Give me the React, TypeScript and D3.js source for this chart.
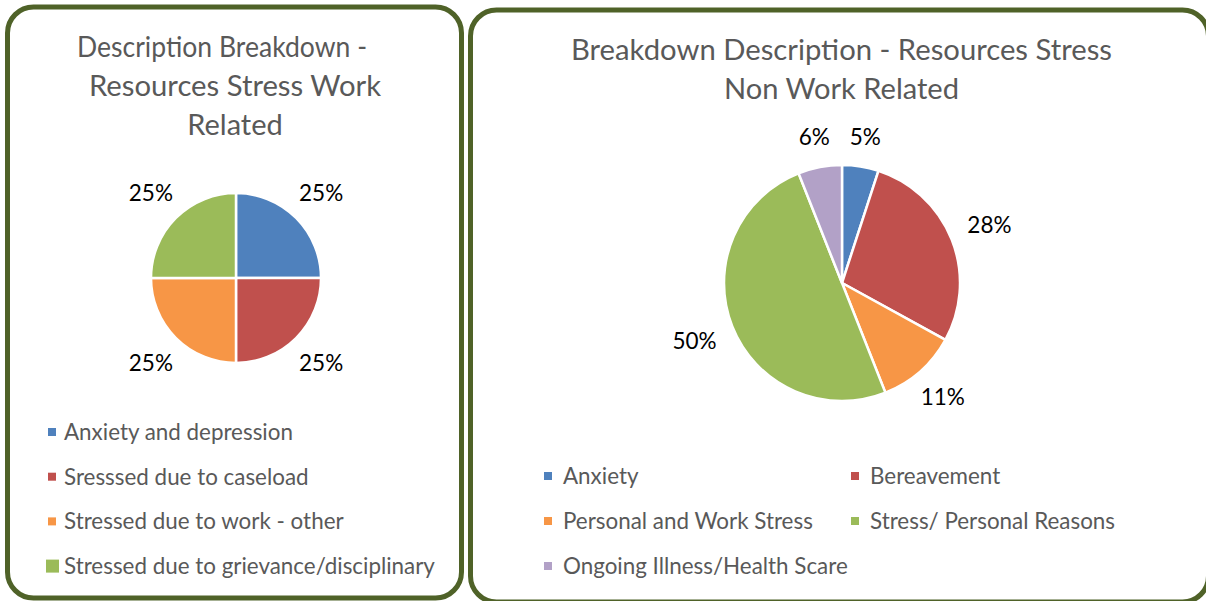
import React from 'react';
import * as d3 from 'd3';

// left chart
const workCategories = [
  'Anxiety and depression',
  'Sresssed due to caseload',
  'Stressed due to work - other',
  'Stressed due to grievance/disciplinary',
];
const workValues = [25, 25, 25, 25];
const workColors = ['#4F81BD', '#C0504D', '#F79646', '#9BBB59'];
const workTitle = ['Description Breakdown -', 'Resources Stress Work', 'Related'];

// right chart
const nonWorkCategories = [
  'Anxiety',
  'Bereavement',
  'Personal and Work Stress',
  'Stress/ Personal Reasons',
  'Ongoing Illness/Health Scare',
];
const nonWorkValues = [5, 28, 11, 50, 6];
const nonWorkColors = ['#4F81BD', '#C0504D', '#F79646', '#9BBB59', '#B2A1C7'];
const nonWorkTitle = ['Breakdown Description - Resources Stress', 'Non Work Related'];

const FONT = 'Lato, "Open Sans", sans-serif';
const TEXT_GREY = '#595959';
const BORDER = '#4F6228';

type PieProps = {
  cx: number;
  cy: number;
  r: number;
  values: number[];
  colors: string[];
};

const Pie = ({ cx, cy, r, values, colors }: PieProps) => {
  const pie = d3.pie<number>().sort(null).value((d) => d);
  const arcs = pie(values);
  const arc = d3.arc<d3.PieArcDatum<number>>().innerRadius(0).outerRadius(r);
  const total = d3.sum(values);

  return (
    <g transform={`translate(${cx},${cy})`}>
      {arcs.map((a, i) => (
        <path key={i} d={arc(a) || ''} fill={colors[i]} stroke="#fff" strokeWidth={2.5} />
      ))}
      {arcs.map((a, i) => {
        const label = `${Math.round((a.data / total) * 100)}%`;
        const mid = (a.startAngle + a.endAngle) / 2;
        // push the label box out until its edge clears the slice
        const hw = label.length * 7.3;
        const hh = 13;
        const s = Math.abs(Math.sin(mid)) || 1e-6;
        const c = Math.abs(Math.cos(mid)) || 1e-6;
        const dist = r + 17 + Math.min(hw / s, hh / c);
        const x = Math.sin(mid) * dist;
        const y = -Math.cos(mid) * dist;
        return (
          <text key={'l' + i} x={x} y={y} dy="0.35em" textAnchor="middle"
            fontFamily={FONT} fontSize={22.5} fill="#000">
            {label}
          </text>
        );
      })}
    </g>
  );
};

export default function App() {
  return (
    <svg width={1206} height={601} style={{ position: 'absolute', left: 0, top: 0, background: '#fff' }}>
      {/* panel frames */}
      <rect x={7.5} y={7} width={454} height={591} rx={26} fill="#fff" stroke={BORDER} strokeWidth={5} />
      <rect x={470.5} y={10} width={738} height={592} rx={26} fill="#fff" stroke={BORDER} strokeWidth={5} />

      {/* left title */}
      <g fontFamily={FONT} fontSize={29} fill={TEXT_GREY} textAnchor="middle">
        <text x={222} y={57} textLength={290} lengthAdjust="spacingAndGlyphs">{workTitle[0]}</text>
        <text x={235} y={96} textLength={292} lengthAdjust="spacingAndGlyphs">{workTitle[1]}</text>
        <text x={235} y={135}>{workTitle[2]}</text>
      </g>
      <Pie cx={236} cy={278} r={85} values={workValues} colors={workColors} />
      <g fontFamily={FONT} fontSize={22.4} fill={TEXT_GREY}>
        {workCategories.map((c, i) => {
          const y = 432 + i * 44.7;
          const s = i === 3 ? 13 : 8;
          return (
            <g key={c}>
              <rect x={i === 3 ? 46 : 48} y={y - s / 2} width={s} height={s} fill={workColors[i]} />
              <text x={64} y={y} dy="0.35em">{c}</text>
            </g>
          );
        })}
      </g>

      {/* right title */}
      <g fontFamily={FONT} fontSize={29} fill={TEXT_GREY} textAnchor="middle">
        <text x={841.5} y={60} textLength={541} lengthAdjust="spacingAndGlyphs">{nonWorkTitle[0]}</text>
        <text x={841.5} y={99} textLength={235} lengthAdjust="spacingAndGlyphs">{nonWorkTitle[1]}</text>
      </g>
      <Pie cx={842} cy={283} r={118} values={nonWorkValues} colors={nonWorkColors} />
      <g fontFamily={FONT} fontSize={22.4} fill={TEXT_GREY}>
        {nonWorkCategories.map((c, i) => {
          const col = i % 2;
          const row = Math.floor(i / 2);
          const mx = col === 0 ? 544 : 851;
          const y = 476 + row * 45;
          return (
            <g key={c}>
              <rect x={mx} y={y - 4} width={8} height={8} fill={nonWorkColors[i]} />
              <text x={mx + 19} y={y} dy="0.35em">{c}</text>
            </g>
          );
        })}
      </g>
    </svg>
  );
}
